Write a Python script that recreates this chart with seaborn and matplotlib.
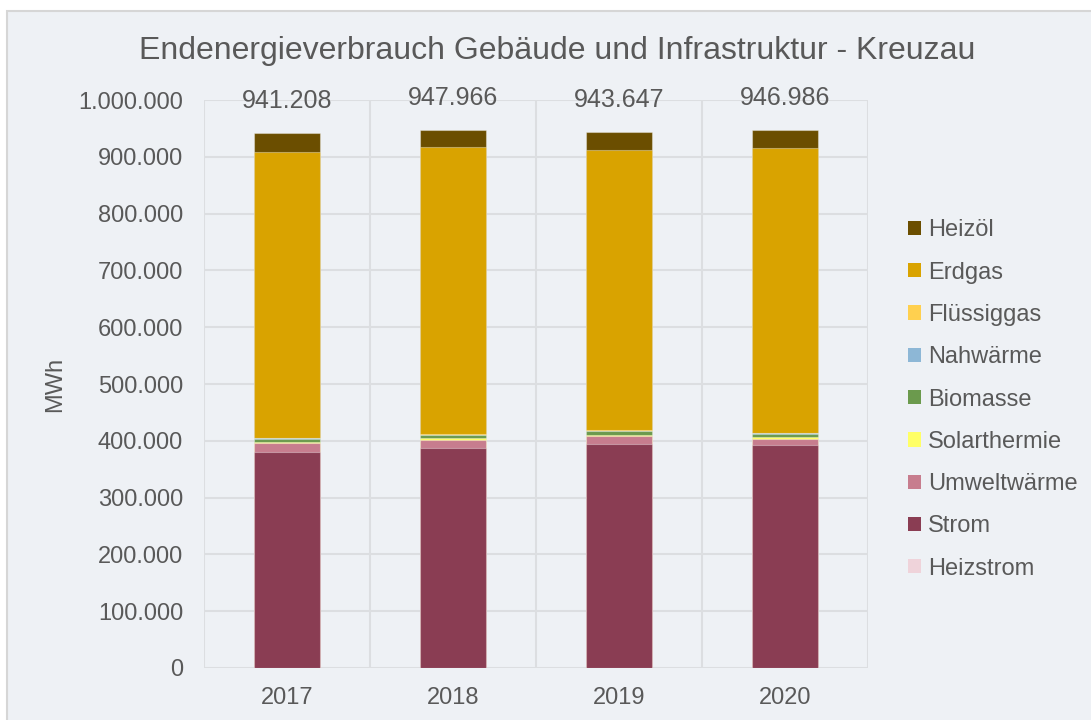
import numpy as np
import pandas as pd
import matplotlib
matplotlib.use("Agg")
import matplotlib.pyplot as plt
from matplotlib.patches import Patch, Rectangle
import seaborn as sns

# data (MWh)
years = ["2017", "2018", "2019", "2020"]
heizstrom = [500, 500, 500, 500]
strom = [380000, 387000, 394000, 391600]
umweltwaerme = [16000, 14000, 13500, 11300]
solarthermie = [1000, 2800, 3000, 3200]
biomasse = [6500, 6000, 6000, 6000]
nahwaerme = [300, 300, 300, 300]
fluessiggas = [1500, 1500, 1500, 1500]
erdgas = [502000, 504500, 493000, 501500]
heizoel = [33408, 31366, 31847, 31086]

# stacking order bottom -> top
layers = ["Heizstrom", "Strom", "Umweltwärme", "Solarthermie", "Biomasse",
          "Nahwärme", "Flüssiggas", "Erdgas", "Heizöl"]
values = [heizstrom, strom, umweltwaerme, solarthermie, biomasse,
          nahwaerme, fluessiggas, erdgas, heizoel]
colors = {
    "Heizöl": "#6B4E00",
    "Erdgas": "#D9A300",
    "Flüssiggas": "#FFD04F",
    "Nahwärme": "#8DB7D6",
    "Biomasse": "#6B9A4D",
    "Solarthermie": "#FFFF66",
    "Umweltwärme": "#C77D8E",
    "Strom": "#8A3D53",
    "Heizstrom": "#EFD3DA",
}

bg = "#EEF1F5"
grid_c = "#DCDEE1"
txt_c = "#595959"

sns.set_theme(style="white")
plt.rcParams["font.family"] = ["Liberation Sans", "DejaVu Sans"]

df = pd.DataFrame(dict(zip(layers, values)), index=years)
cum = df.cumsum(axis=1)
totals = df.sum(axis=1)

fig = plt.figure(figsize=(10.91, 7.2), dpi=100)
fig.patch.set_facecolor("white")
fig.patches.append(Rectangle((7 / 1091, -0.05), 1.1, 1 - 11 / 720 + 0.05,
                             transform=fig.transFigure, facecolor=bg,
                             edgecolor="#D6D6D6", linewidth=1.5, zorder=-10))

ax = fig.add_axes([204 / 1091, 52 / 720, 664 / 1091, 568 / 720])
ax.set_facecolor(bg)

# draw cumulative bars from the top layer down so each one covers the rest
for name in layers[::-1]:
    sns.barplot(x=years, y=cum[name].values, color=colors[name], width=0.4,
                saturation=1, edgecolor=(1, 1, 1, 0.35), linewidth=0.8,
                ax=ax, zorder=3)

for i, t in enumerate(totals):
    ax.annotate(f"{t:,.0f}".replace(",", "."), (i, t), xytext=(0, 32),
                textcoords="offset pixels", ha="center", va="center",
                fontsize=18, color=txt_c)

ax.set_ylim(0, 1000000)
ax.set_xlim(-0.5, 3.5)
ax.set_yticks(np.arange(0, 1000001, 100000))
ax.yaxis.set_major_formatter(lambda v, p: f"{v:,.0f}".replace(",", "."))
ax.set_xticks(range(len(years)), years)
ax.set_xticks(np.arange(-0.5, 4, 1), minor=True)
ax.grid(False)
ax.grid(axis="y", which="major", color=grid_c, linewidth=1.5, zorder=0)
ax.grid(axis="x", which="minor", color=grid_c, linewidth=1.5, zorder=0)
ax.tick_params(axis="both", which="both", length=0, labelsize=17, labelcolor=txt_c)
ax.tick_params(axis="x", pad=14)
ax.tick_params(axis="y", pad=15)
for s in ax.spines.values():
    s.set_visible(False)

ax.set_xlabel("")
ax.set_ylabel("MWh", fontsize=17, color=txt_c)
ax.yaxis.set_label_coords(-0.208, 0.5)

fig.text(0.511, 1 - 51 / 720, "Endenergieverbrauch Gebäude und Infrastruktur - Kreuzau",
         ha="center", va="center", fontsize=23, color=txt_c)

handles = [Patch(facecolor=colors[n], edgecolor="none", label=n) for n in layers[::-1]]
fig.legend(handles=handles, loc="center left", bbox_to_anchor=(908 / 1091, 1 - 399.5 / 720),
           frameon=False, fontsize=17, labelcolor=txt_c, handlelength=0.55,
           handleheight=0.55, handletextpad=0.3, labelspacing=0.86, borderpad=0,
           borderaxespad=0)

fig.savefig("out.png", dpi=100, facecolor=fig.get_facecolor())
